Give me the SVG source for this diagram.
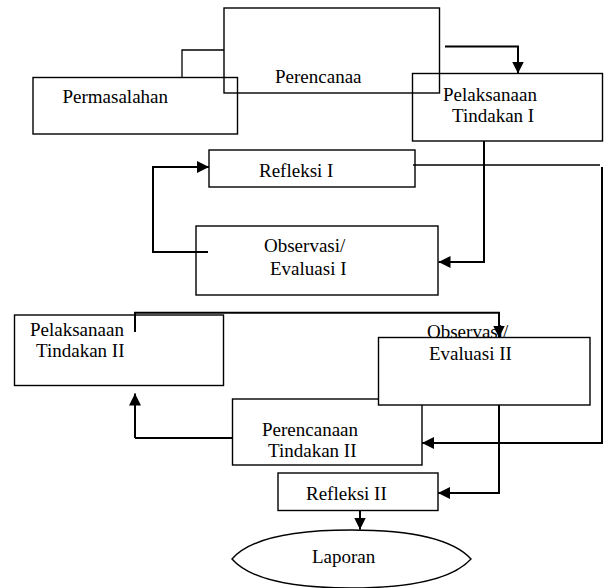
<svg xmlns="http://www.w3.org/2000/svg" width="605" height="588" viewBox="0 0 605 588">
<defs>
<style>
.box{fill:none;stroke:#000;stroke-width:1.4}
.boxw{fill:#fff;stroke:#000;stroke-width:1.4}
.t{font-family:"Liberation Serif","Times New Roman",serif;font-size:19px;fill:#000}
.c{fill:none;stroke:#000;stroke-width:2}
.thin{fill:none;stroke:#000;stroke-width:1.3}
</style>
<marker id="ah" markerUnits="userSpaceOnUse" markerWidth="12" markerHeight="12" refX="12" refY="6" orient="auto" viewBox="0 0 12 12">
<path d="M0,0 L12,6 L0,12 Z" fill="#000"/>
</marker>
</defs>
<rect width="605" height="588" fill="#fff"/>
<g id="permasalahan">
<rect class="box" x="33" y="77.5" width="204.5" height="56.5"/>
<text class="t" x="62.5" y="103">Permasalahan</text>
</g>
<g id="perencanaa">
<rect class="box" x="224" y="8" width="215.5" height="85"/>
<text class="t" x="275" y="83">Perencanaa</text>
</g>
<g id="pelaksanaan1">
<rect class="box" x="412.5" y="73.5" width="190" height="67.5"/>
<text class="t" x="443" y="100.5">Pelaksanaan</text>
<text class="t" x="452" y="121.5">Tindakan I</text>
</g>
<g id="refleksi1">
<rect class="box" x="209" y="150" width="206" height="37"/>
<text class="t" x="259" y="177">Refleksi I</text>
</g>
<g id="observasi1">
<rect class="box" x="196" y="226" width="242" height="69"/>
<text class="t" x="264" y="252">Observasi/</text>
<text class="t" x="270" y="275">Evaluasi I</text>
</g>
<g id="pelaksanaan2">
<rect class="box" x="14.5" y="315" width="209" height="70.5"/>
<text class="t" x="30" y="336">Pelaksanaan</text>
<text class="t" x="36" y="357">Tindakan II</text>
</g>
<g id="perencanaan2">
<rect class="box" x="232.5" y="399" width="189.5" height="66"/>
<text class="t" x="262" y="436">Perencanaan</text>
<text class="t" x="268" y="457">Tindakan II</text>
</g>
<g id="observasi2">
<rect class="boxw" x="378.5" y="337.5" width="211.5" height="67.5"/>
<text class="t" x="427" y="338">Observasi/</text>
<text class="t" x="429" y="360">Evaluasi II</text>
</g>
<g id="refleksi2">
<rect class="box" x="278" y="473" width="160" height="37.5"/>
<text class="t" x="306" y="500">Refleksi II</text>
</g>
<g id="laporan">
<path class="box" d="M232,559 C252,536 300,530 351,530 C402,530 450,536 471,559 C450,582 402,588 351,588 C300,588 252,582 232,559 Z"/>
<text class="t" x="312" y="563">Laporan</text>
</g>
<g id="connectors">
<path class="thin" d="M182,77.5 V50 H224"/>
<path class="c" d="M445,46.5 H518 V73.5" marker-end="url(#ah)"/>
<path class="c" d="M484,141 V262 H438.5" marker-end="url(#ah)"/>
<path class="c" d="M208,252 H153 V167 H209" marker-end="url(#ah)"/>
<path class="thin" d="M413,165 H600"/>
<path class="c" d="M602,167 V443 H422" marker-end="url(#ah)"/>
<path class="c" d="M135,332 V312.7 H499 V337.5" marker-end="url(#ah)"/>
<path class="c" d="M499,405 V493 H438" marker-end="url(#ah)"/>
<path class="c" d="M232.5,438 H135"/>
<path class="c" d="M135,438 V393.5" stroke-width="3" marker-end="url(#ah)"/>
<path class="c" d="M360,510.5 V529.5" marker-end="url(#ah)"/>
</g>
</svg>
